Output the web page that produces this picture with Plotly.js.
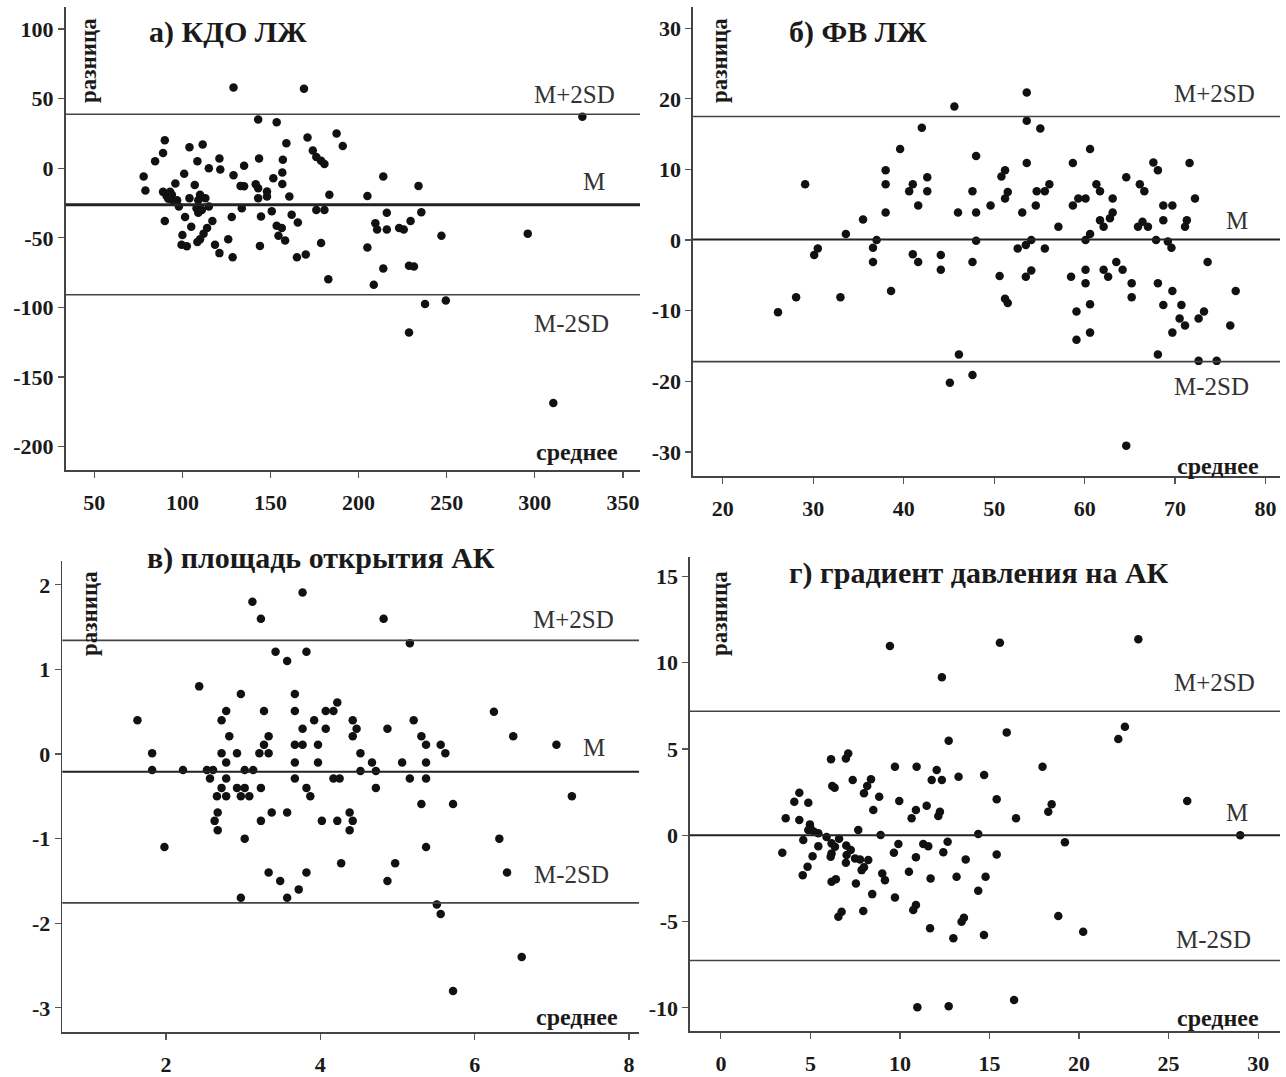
<!DOCTYPE html>
<html>
<head>
<meta charset="utf-8">
<script src="https://cdn.plot.ly/plotly-3.0.1.min.js"></script>
<style>html,body{margin:0;padding:0;background:#fff}#chart{width:1286px;height:1077px}</style>
</head>
<body>
<div id="chart"></div>
<script>
// ---- a) КДО ЛЖ ----
const kdoMean = [129,169,90,89,84.5,78,79,104,111.5,108.5,
  101,121,115,121.5,129,133,135,96,107,89,
  91,94,95,92,104,110,113,109,98,108,
  111,109,115,90,101.5,105,100,99.5,102.5,110,
  112,114,117,108.5,118.5,121,126,128,128.5,143,
  153.5,171,187.5,191,159,143.5,157,135,141.6,143,
  151.6,156.7,156.7,148,148,143,160.7,183.4,133.7,150.7,
  144.6,162,165.5,176,180.6,153.5,156.4,154.5,158.3,144,
  178.7,165,170,182.8,174,176,178.7,180.6,205,214,
  234,235.6,216,209.5,210.5,216,223,225.6,229.5,247,
  296,205,214,228.6,231.4,208.6,237.7,249.5,228.6,310.5,
  327,97,93];
const kdoDiff = [58,57,20,11,5,-6,-16,15,17,5,
  -4,7,0,-1,-5,-12.7,1.7,-11,-12,-17,
  -20,-19,-24,-22,-21.5,-19,-21.5,-23,-27.5,-28.7,
  -30,-32,-27.5,-38,-35,-42,-48,-55,-56,-51,
  -47,-43,-38,-53,-55,-61,-51,-35,-64,35,
  33,22,25,16,18,7,6,-13,-11.5,-14.4,
  -7.2,-3.1,-11.3,-16.7,-20.3,-21.5,-20.3,-19.1,-28.7,-31,
  -34.7,-33.5,-39,-30,-30,-41.4,-43,-48.6,-52,-55.8,
  -53.8,-64,-62,-79.7,12.7,8,5.3,3.1,-20,-6,
  -12.7,-31.6,-32,-39.5,-44,-44,-43,-44,-38,-48.6,
  -47,-57,-72,-70,-70.6,-83.7,-97.6,-95,-118,-168.7,
  37,-23,-17];
const kdoLimits = [38.8, -26.3, -90.9];
const kdoXTicks = [50,100,150,200,250,300,350];
const kdoYTicks = [-200,-150,-100,-50,0,50,100];

// ---- б) ФВ ЛЖ ----
const fvMean = [45.6,42.0,39.6,48.0,38.0,38.0,29.1,41.0,40.6,42.6,
  42.6,41.6,38.0,35.5,33.6,47.6,46.0,48.0,49.6,50.8,
  51.2,51.2,51.5,48.0,30.5,30.1,37.0,36.6,36.6,41.0,
  41.6,44.1,44.1,47.6,50.6,51.2,51.5,38.6,28.1,33.0,
  26.1,46.1,47.6,45.1,53.6,53.6,55.1,60.6,53.6,58.7,
  67.6,68.1,71.6,64.6,66.1,66.6,72.2,61.3,61.7,63.1,
  54.7,56.1,55.6,54.6,53.1,58.7,59.3,60.1,57.1,61.7,
  62.1,62.8,63.1,60.6,60.1,65.9,66.4,67.0,68.7,69.7,
  68.7,71.3,71.1,67.9,69.2,69.6,52.6,53.5,54.1,55.6,
  53.5,54.1,58.5,60.1,60.1,62.1,62.6,63.5,64.2,65.2,
  65.2,60.6,59.1,59.1,60.6,68.1,69.7,73.6,68.7,70.7,
  70.5,71.1,72.6,73.2,69.7,76.7,76.1,68.1,72.6,74.6,
  64.6];
const fvDiff = [18.9,15.9,12.9,11.9,9.9,7.9,7.9,7.9,6.9,8.9,
  6.9,4.9,3.9,2.9,0.85,6.9,3.9,3.9,4.9,9.0,
  9.9,5.9,6.8,-0.1,-1.2,-2.1,0,-1.1,-3.1,-2.0,
  -3.1,-2.1,-4.2,-3.1,-5.1,-8.3,-8.9,-7.2,-8.1,-8.1,
  -10.2,-16.2,-19.1,-20.2,20.9,16.9,15.8,12.9,10.9,10.9,
  11.0,9.9,10.9,8.9,7.9,6.9,5.9,7.9,6.9,5.9,
  6.9,7.9,6.9,4.9,3.9,4.9,5.9,5.9,1.9,2.8,
  1.9,3.1,3.9,0.85,0,1.9,2.6,1.9,4.9,4.9,
  2.8,2.8,1.9,0,-0.2,-1.1,-1.2,-0.7,0,-1.2,
  -5.2,-4.3,-5.2,-4.2,-6.1,-4.2,-5.2,-3.1,-4.2,-6.1,
  -8.1,-9.1,-10.1,-14.1,-13.1,-6.1,-7.2,-3.1,-9.2,-9.2,
  -11.1,-12.1,-11.1,-10.1,-13.1,-7.2,-12.1,-16.2,-17.1,-17.1,
  -29.1];
const fvLimits = [17.5, 0.1, -17.2];
const fvXTicks = [20,30,40,50,60,70,80];
const fvYTicks = [-30,-20,-10,0,10,20,30];

// ---- в) площадь открытия АК ----
const areaMean = [3.77,3.12,3.23,3.42,3.57,3.82,2.43,2.97,3.67,1.63,
  2.78,2.72,3.27,3.67,3.77,3.92,4.07,4.17,4.22,4.07,
  2.82,3.33,3.27,3.21,3.33,3.67,3.77,3.97,3.67,3.97,
  1.82,2.72,2.78,2.92,1.82,2.22,2.53,2.61,3.02,3.13,
  2.57,2.78,3.67,4.17,4.25,2.72,2.66,2.78,2.92,3.02,
  2.97,3.08,3.23,3.82,3.87,2.67,2.63,2.67,3.37,3.57,
  3.23,4.02,4.22,3.02,1.98,4.27,3.33,3.48,3.82,3.72,
  2.97,3.57,4.82,5.16,6.25,6.50,7.06,7.26,4.42,4.47,
  4.42,4.87,5.21,5.31,5.37,5.56,5.62,4.52,4.67,5.06,
  5.37,5.16,5.37,4.72,5.31,5.72,4.38,4.42,4.38,5.37,
  4.97,4.87,6.32,6.42,5.51,5.56,6.61,5.72,4.52,4.72];
const areaDiff = [1.91,1.80,1.60,1.21,1.10,1.21,0.80,0.71,0.71,0.40,
  0.51,0.40,0.51,0.51,0.30,0.40,0.51,0.51,0.61,0.30,
  0.21,0.21,0.11,0.01,0.01,0.11,0.11,0.11,-0.10,-0.10,
  0.01,0.01,-0.10,0.01,-0.19,-0.19,-0.19,-0.19,-0.19,-0.19,
  -0.29,-0.29,-0.29,-0.29,-0.29,-0.40,-0.50,-0.50,-0.40,-0.40,
  -0.50,-0.50,-0.40,-0.40,-0.50,-0.69,-0.79,-0.90,-0.69,-0.69,
  -0.79,-0.79,-0.79,-1.00,-1.10,-1.29,-1.40,-1.50,-1.40,-1.60,
  -1.70,-1.70,1.60,1.31,0.50,0.21,0.11,-0.50,0.40,0.30,
  0.21,0.30,0.40,0.21,0.11,0.11,0.01,0.01,-0.10,-0.10,
  -0.10,-0.29,-0.29,-0.40,-0.59,-0.59,-0.69,-0.79,-0.90,-1.10,
  -1.29,-1.50,-1.00,-1.40,-1.78,-1.89,-2.40,-2.80,-0.20,-0.20];
const areaLimits = [1.344, -0.21, -1.76];
const areaXTicks = [2,4,6,8];
const areaYTicks = [-3,-2,-1,0,1,2];

// ---- г) градиент давления на АК ----
const gradMean = [9.44,15.58,12.34,12.72,15.96,6.15,6.98,7.11,9.72,10.93,
  12.05,11.77,12.34,13.27,14.70,6.22,6.35,7.36,7.99,8.17,
  8.38,4.38,4.10,4.88,8.84,9.96,8.51,11.49,10.89,10.65,
  12.23,12.14,15.40,3.62,4.38,4.97,4.88,5.44,7.67,8.92,
  14.37,4.60,5.44,3.43,5.12,6.18,6.18,6.37,6.13,7.02,
  7.25,7.49,7.77,8.23,6.98,4.84,4.57,7.86,7.99,6.18,
  6.42,7.54,9.01,9.16,9.66,9.91,11.30,11.58,10.89,12.42,
  12.66,10.50,11.71,13.16,13.67,14.78,15.40,14.37,8.45,9.72,
  6.56,6.74,7.95,10.74,10.89,11.68,13.44,13.57,12.98,14.69,
  10.97,12.72,23.31,22.56,22.19,17.96,18.47,18.28,16.48,26.04,
  19.21,18.84,20.23,16.37,29.0,5.2,5.9,6.6,7.0,5.0];
const gradDiff = [10.96,11.15,9.15,5.48,5.96,4.40,4.45,4.74,3.97,3.97,
  3.78,3.20,3.20,3.39,3.49,2.85,2.75,3.20,2.43,2.85,
  3.24,2.46,1.94,1.88,2.23,1.98,1.46,1.71,1.46,0.98,
  1.36,1.11,2.08,0.98,0.88,0.63,0.30,0.11,0.30,0.01,
  0.07,-0.28,-0.63,-1.01,-1.21,-0.47,-1.05,-0.67,-1.24,-1.15,
  -0.86,-1.34,-1.40,-1.44,-1.59,-1.82,-2.31,-2.02,-1.86,-2.69,
  -2.55,-2.79,-2.21,-2.60,-1.01,-0.51,-0.51,-0.63,-1.28,-0.99,
  -0.38,-2.11,-2.50,-2.40,-1.40,-2.40,-1.11,-3.21,-3.41,-3.60,
  -4.72,-4.43,-4.39,-4.33,-4.04,-5.39,-5.01,-4.78,-5.97,-5.78,
  -9.97,-9.90,11.35,6.29,5.57,3.97,1.79,1.36,0.98,1.98,
  -0.41,-4.68,-5.59,-9.55,0.0,0.2,-0.1,-0.2,-0.6,0.4];
const gradLimits = [7.18, 0, -7.26];
const gradXTicks = [0,5,10,15,20,25,30];
const gradYTicks = [-10,-5,0,5,10,15];

const panelTitles = ['а) КДО ЛЖ', 'б) ФВ ЛЖ', 'в) площадь открытия АК', 'г) градиент давления на АК'];
const lineLabels = ['M+2SD', 'M', 'M-2SD'];
const yLabel = 'разница';
const xLabel = 'среднее';

const W = 1286, H = 1077;
const FONT = 'Liberation Serif, Times New Roman, serif';
const INK = '#1a1a1a';

// panel geometry (pixels) and axis ranges
const panels = [
  {mx: kdoMean, dy: kdoDiff, lim: kdoLimits, xt: kdoXTicks, yt: kdoYTicks,
   px: [65.6, 640], py: [7, 470], xr: [33.7, 359.7], yr: [-216.8, 115.8], mW: 3,
   ann: {title: [147, 32], yl: [89, 61], lines: [[617, 95], [607, 182], [611, 323]], xl: [620, 452]}},
  {mx: fvMean, dy: fvDiff, lim: fvLimits, xt: fvXTicks, yt: fvYTicks,
   px: [693, 1280], py: [7, 476], xr: [16.7, 81.6], yr: [-33.4, 33.0], mW: 2,
   ann: {title: [787, 32], yl: [720, 61], lines: [[1257, 94], [1250, 221], [1251, 386]], xl: [1261, 466]}},
  {mx: areaMean, dy: areaDiff, lim: areaLimits, xt: areaXTicks, yt: areaYTicks,
   px: [62.3, 639], py: [560.5, 1032], xr: [0.656, 8.13], yr: [-3.286, 2.288], mW: 2,
   ann: {title: [145, 558], yl: [89, 614], lines: [[616, 619], [607, 747], [611, 874]], xl: [620, 1017]}},
  {mx: gradMean, dy: gradDiff, lim: gradLimits, xt: gradXTicks, yt: gradYTicks,
   px: [690, 1280], py: [557, 1031], xr: [-1.725, 31.22], yr: [-11.34, 16.12], mW: 2,
   ann: {title: [787, 573], yl: [719, 614], lines: [[1257, 682], [1250, 812], [1253, 939]], xl: [1261, 1018]}}
];

const traces = [];
const layout = {
  width: W, height: H, margin: {l: 0, r: 0, t: 0, b: 0},
  paper_bgcolor: '#fff', plot_bgcolor: '#fff', showlegend: false,
  font: {family: FONT, color: INK},
  shapes: [], annotations: []
};

const fx = v => v / W;
const fy = v => 1 - v / H;

panels.forEach((p, i) => {
  const n = i === 0 ? '' : String(i + 1);
  traces.push({
    type: 'scatter', mode: 'markers', x: p.mx, y: p.dy,
    xaxis: 'x' + n, yaxis: 'y' + n,
    marker: {size: 8.5, color: '#111'}, hoverinfo: 'x+y'
  });
  const common = {
    showline: true, linecolor: '#444', linewidth: 1.6, mirror: false,
    showgrid: false, zeroline: false, ticks: 'outside', ticklen: 6, tickwidth: 1.2, tickcolor: '#555',
    tickfont: {family: FONT, size: 22, color: INK, weight: 'bold'}, fixedrange: true
  };
  layout['xaxis' + n] = Object.assign({}, common, {
    domain: [fx(p.px[0]), fx(p.px[1])], range: p.xr, anchor: 'y' + n,
    tickmode: 'array', tickvals: p.xt, ticktext: p.xt.map(String), ticklabelstandoff: 6
  });
  layout['yaxis' + n] = Object.assign({}, common, {
    domain: [fy(p.py[1]), fy(p.py[0])], range: p.yr, anchor: 'x' + n,
    tickmode: 'array', tickvals: p.yt, ticktext: p.yt.map(String)
  });
  p.lim.forEach((v, k) => {
    layout.shapes.push({
      type: 'line', xref: 'x' + n + ' domain', yref: 'y' + n, x0: 0, x1: 1, y0: v, y1: v,
      line: {color: k === 1 ? '#222' : '#444', width: k === 1 ? p.mW : 1.6}
    });
  });
  const a = p.ann;
  layout.annotations.push({
    xref: 'paper', yref: 'paper', x: fx(a.title[0]), y: fy(a.title[1]), xanchor: 'left', yanchor: 'middle',
    text: '<b>' + panelTitles[i] + '</b>', showarrow: false, font: {family: FONT, size: 30, color: INK}
  });
  layout.annotations.push({
    xref: 'paper', yref: 'paper', x: fx(a.yl[0]), y: fy(a.yl[1]), xanchor: 'center', yanchor: 'middle',
    text: '<b>' + yLabel + '</b>', textangle: -90, showarrow: false, font: {family: FONT, size: 23, color: INK}
  });
  a.lines.forEach((pt, k) => {
    layout.annotations.push({
      xref: 'paper', yref: 'paper', x: fx(pt[0]), y: fy(pt[1]), xanchor: 'right', yanchor: 'middle',
      text: lineLabels[k], showarrow: false, font: {family: FONT, size: 25, color: '#333'}
    });
  });
  layout.annotations.push({
    xref: 'paper', yref: 'paper', x: fx(a.xl[0]), y: fy(a.xl[1]), xanchor: 'right', yanchor: 'middle',
    text: '<b>' + xLabel + '</b>', showarrow: false, font: {family: FONT, size: 24, color: INK}
  });
});

Plotly.newPlot('chart', traces, layout, {displayModeBar: false, staticPlot: true});
</script>
</body>
</html>
